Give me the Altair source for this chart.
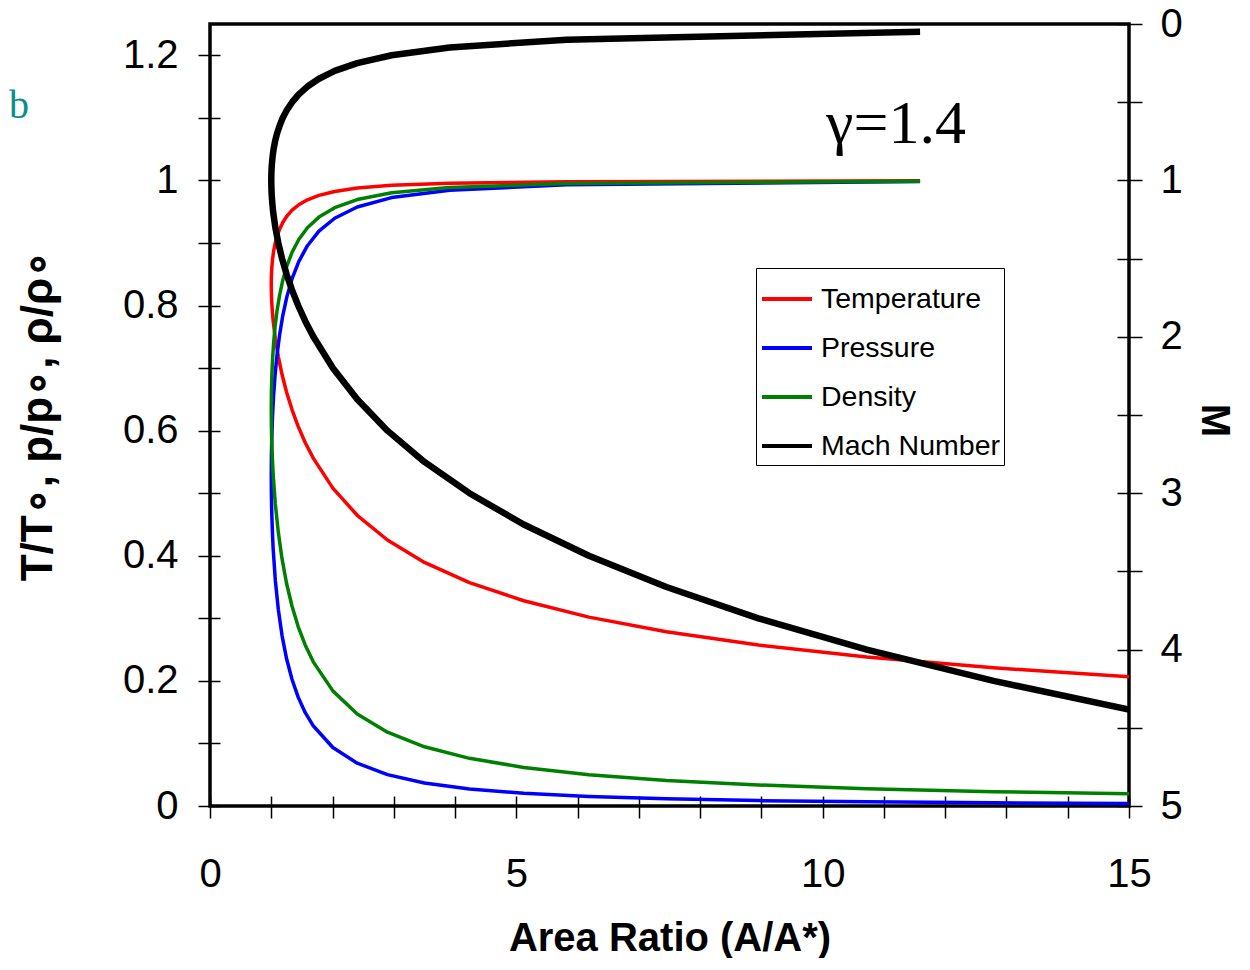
import altair as alt
import pandas as pd

# ---- data (isentropic flow, gamma = 1.4) ----
mach = [0.05, 0.1, 0.15, 0.2, 0.25, 0.3, 0.35, 0.4, 0.45, 0.5, 0.55, 0.6, 0.65, 0.7, 0.75, 0.8, 0.85, 0.9, 0.95, 1.0,
        1.05, 1.1, 1.15, 1.2, 1.3, 1.4, 1.5, 1.6, 1.7, 1.8, 1.9, 2.0, 2.2, 2.4, 2.6, 2.8, 3.0, 3.2, 3.4, 3.6, 3.8, 4.0, 4.2, 4.384]
area = [11.59, 5.822, 3.910, 2.964, 2.403, 2.035, 1.778, 1.590, 1.449, 1.340, 1.255, 1.188, 1.136, 1.094, 1.062, 1.038, 1.021, 1.009, 1.002, 1.000,
        1.002, 1.008, 1.018, 1.030, 1.066, 1.115, 1.176, 1.250, 1.338, 1.439, 1.555, 1.688, 2.005, 2.403, 2.896, 3.500, 4.235, 5.121, 6.184, 7.450, 8.951, 10.72, 12.79, 15.00]
temp = [0.9995, 0.9980, 0.9955, 0.9921, 0.9877, 0.9823, 0.9761, 0.9690, 0.9611, 0.9524, 0.9430, 0.9328, 0.9221, 0.9107, 0.8989, 0.8865, 0.8737, 0.8606, 0.8471, 0.8333,
        0.8193, 0.8052, 0.7908, 0.7764, 0.7474, 0.7184, 0.6897, 0.6614, 0.6337, 0.6068, 0.5807, 0.5556, 0.5081, 0.4647, 0.4252, 0.3894, 0.3571, 0.3281, 0.3019, 0.2784, 0.2572, 0.2381, 0.2208, 0.2064]
pres = [0.9983, 0.9930, 0.9844, 0.9725, 0.9575, 0.9395, 0.9188, 0.8956, 0.8703, 0.8430, 0.8142, 0.7840, 0.7528, 0.7209, 0.6886, 0.6560, 0.6235, 0.5913, 0.5595, 0.5283,
        0.4979, 0.4684, 0.4398, 0.4124, 0.3609, 0.3142, 0.2724, 0.2353, 0.2026, 0.1740, 0.1492, 0.1278, 0.0935, 0.0684, 0.0501, 0.0368, 0.0272, 0.0202, 0.0151, 0.0114, 0.0086, 0.0066, 0.0051, 0.0040]
dens = [0.9988, 0.9950, 0.9888, 0.9803, 0.9694, 0.9564, 0.9413, 0.9243, 0.9055, 0.8852, 0.8634, 0.8405, 0.8164, 0.7916, 0.7660, 0.7400, 0.7136, 0.6870, 0.6605, 0.6339,
        0.6077, 0.5817, 0.5562, 0.5311, 0.4829, 0.4374, 0.3950, 0.3557, 0.3197, 0.2868, 0.2570, 0.2300, 0.1840, 0.1472, 0.1179, 0.0946, 0.0762, 0.0617, 0.0501, 0.0409, 0.0336, 0.0277, 0.0229, 0.0194]

series_names = ["Temperature", "Pressure", "Density", "Mach Number"]
series_colors = ["#ff0000", "#0000ff", "#008000", "#000000"]

x_ticks = list(range(0, 16))
left_ticks = [round(i * 0.1, 1) for i in range(0, 13)]
right_ticks = [i * 0.5 for i in range(0, 11)]

# ---- tables ----
rows = []
for name, vals in [("Temperature", temp), ("Pressure", pres), ("Density", dens)]:
    for i, (a, v) in enumerate(zip(area, vals)):
        rows.append({"series": name, "area": a, "value": v, "idx": i})
ratio_df = pd.DataFrame(rows)
mach_df = pd.DataFrame({"series": "Mach Number", "area": area, "mach": mach, "idx": list(range(len(mach)))})

FONT = "Liberation Sans"

color = alt.Color(
    "series:N",
    scale=alt.Scale(domain=series_names, range=series_colors),
    legend=alt.Legend(
        title=None, orient="none", legendX=546, legendY=244,
        symbolType="stroke", symbolSize=2500, symbolStrokeWidth=4,
        labelFontSize=28.5, labelFont=FONT, labelLimit=400,
        labelColor="black", labelOffset=7, rowPadding=7, padding=4,
        strokeColor="black", fillColor="white",
    ),
)

x_axis = alt.Axis(
    values=x_ticks, offset=-10, tickSize=22, tickWidth=1.5, tickColor="black",
    domain=False, grid=False, labelFontSize=40, labelFont=FONT, labelColor="black",
    labelPadding=36, labelOverlap=False, labelFlush=False,
    labelExpr="datum.value % 5 == 0 ? toString(datum.value) : ''",
    title="Area Ratio (A/A*)", titleFontSize=40, titleFont=FONT, titleFontWeight="bold",
    titleColor="black", titleBaseline="middle", titleY=142, titleX=459.5,
)

left_axis = alt.Axis(
    values=left_ticks, offset=-10, tickSize=22, tickWidth=1.5, tickColor="black",
    domain=False, grid=False, labelFontSize=40, labelFont=FONT, labelColor="black",
    labelPadding=20, labelOverlap=False, labelFlush=False,
    labelExpr="round(datum.value*10) % 2 == 0 ? toString(round(datum.value*10)/10) : ''",
    title="T/T\u2218, p/p\u2218, \u03c1/\u03c1\u2218", titleFontSize=44, titleFont=FONT,
    titleFontWeight="bold", titleColor="black", titleAngle=270, titleBaseline="middle",
    titleX=-182, titleY=391,
)

right_axis = alt.Axis(
    orient="right", values=right_ticks, offset=-12, tickSize=25, tickWidth=1.5, tickColor="black",
    domain=False, grid=False, labelFontSize=40, labelFont=FONT, labelColor="black",
    labelPadding=18, labelOverlap=False, labelFlush=False,
    labelExpr="datum.value % 1 == 0 ? toString(datum.value) : ''",
    title="M", titleFontSize=40, titleFont=FONT, titleFontWeight="bold", titleColor="black",
    titleAngle=90, titleBaseline="middle", titleX=96, titleY=396,
)

x_enc = alt.X("area:Q", scale=alt.Scale(domain=[0, 15], nice=False, zero=False), axis=x_axis)

ratios = alt.Chart(ratio_df).mark_line(clip=True, strokeJoin="round", strokeWidth=3.5).encode(
    x=x_enc,
    y=alt.Y("value:Q", scale=alt.Scale(domain=[0, 1.25], nice=False), axis=left_axis),
    color=color,
    order="idx:Q",
)

mach_line = alt.Chart(mach_df).mark_line(clip=True, strokeJoin="round", strokeWidth=6.5).encode(
    x=x_enc,
    y=alt.Y("mach:Q", scale=alt.Scale(domain=[0, 5], reverse=True, nice=False), axis=right_axis),
    color=color,
    order="idx:Q",
)

gamma_txt = alt.Chart(pd.DataFrame({"t": ["\u03b3=1.4"]})).mark_text(
    font="Liberation Serif", fontSize=62, color="black", align="center", baseline="alphabetic"
).encode(text="t:N", x=alt.value(686), y=alt.value(119))

b_txt = alt.Chart(pd.DataFrame({"t": ["b"]})).mark_text(
    font="Liberation Serif", fontSize=40, color="#0e8c8c", align="right", baseline="alphabetic"
).encode(text="t:N", x=alt.value(-181), y=alt.value(94))

chart = (
    alt.layer(ratios, mach_line, gamma_txt, b_txt)
    .resolve_scale(y="independent")
    .properties(
        width=919, height=782,
        autosize=alt.AutoSizeParams(type="none"),
        padding={"left": 202, "top": 16, "right": 111, "bottom": 152},
        background="white",
    )
    .configure_view(stroke="black", strokeWidth=3.5)
)

chart.save("out.html", embed_options={"renderer": "svg", "actions": False})
